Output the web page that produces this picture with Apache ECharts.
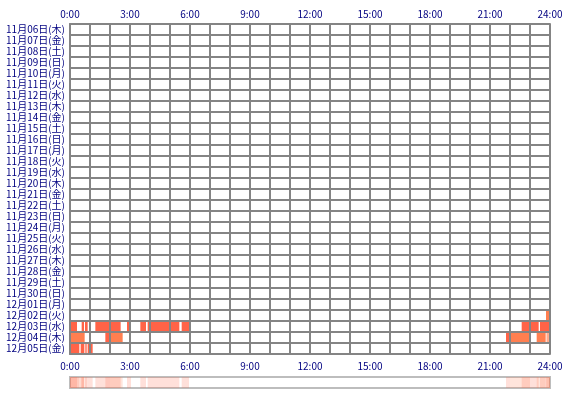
<!DOCTYPE html>
<html><head><meta charset="utf-8">
<script src="https://cdn.jsdelivr.net/npm/echarts@6/dist/echarts.min.js"></script>
<style>html,body{margin:0;padding:0;background:#fff}#c{width:570px;height:400px}</style>
</head><body><div id="c"></div>
<script>
// Categories (rows, top to bottom)
var days = ['11月06日(木)','11月07日(金)','11月08日(土)','11月09日(日)','11月10日(月)','11月11日(火)','11月12日(水)',
  '11月13日(木)','11月14日(金)','11月15日(土)','11月16日(日)','11月17日(月)','11月18日(火)','11月19日(水)',
  '11月20日(木)','11月21日(金)','11月22日(土)','11月23日(日)','11月24日(月)','11月25日(火)','11月26日(水)',
  '11月27日(木)','11月28日(金)','11月29日(土)','11月30日(日)','12月01日(月)','12月02日(火)','12月03日(水)',
  '12月04日(木)','12月05日(金)'];
var hourTicks = ['0:00','3:00','6:00','9:00','12:00','15:00','18:00','21:00','24:00'];
var palette = ['#ff6347', '#ff7f50'];
// Sessions: [start, end, colorIndex]
var dec02 = [['23:48','24:00',1]];
var dec03 = [['0:00','0:21',0],['0:35','0:42',0],['0:45','0:53',0],['1:16','2:32',0],['2:51','3:03',0],
  ['3:31','3:48',0],['3:53','5:28',0],['5:35','5:57',0],['22:35','23:26',0],['23:30','24:00',0]];
var dec04 = [['0:00','0:44',1],['1:46','2:00',0],['2:00','2:38',1],['21:48','22:00',0],['22:00','23:00',1],
  ['23:20','23:47',1],['23:50','23:53',1],['23:55','24:00',1]];
var dec05 = [['0:00','0:28',0],['0:32','0:43',0],['0:46','0:50',0],['0:53','1:08',0]];

function toH(t){var p=t.split(':');return +p[0]+(+p[1])/60;}
var data = [];
[['12月02日(火)',dec02],['12月03日(水)',dec03],['12月04日(木)',dec04],['12月05日(金)',dec05]].forEach(function(d){
  var r = days.indexOf(d[0]);
  d[1].forEach(function(s){ data.push([r, toH(s[0]), toH(s[1]), s[2]]); });
});

var navy = '#000080', gridC = '#848484', font = '"Noto Sans CJK JP", sans-serif';
function hourFmt(v){ return (v % 3 === 0) ? hourTicks[v/3] : ''; }
var chart = echarts.init(document.getElementById('c'));
chart.setOption({
  backgroundColor: '#fff',
  animation: false,
  grid: [
    {left: 70, top: 24, width: 480, height: 330, show: false},
    {left: 70, top: 377, width: 480, height: 11, show: true, borderColor: '#bdbdbd', borderWidth: 2, backgroundColor: '#fff', z: -2}
  ],
  xAxis: [
    {gridIndex: 0, type: 'value', min: 0, max: 24, interval: 1, position: 'bottom',
     axisLine: {show: true, lineStyle: {color: gridC, width: 2}}, axisTick: {show: false},
     splitLine: {show: true, lineStyle: {color: gridC, width: 2}},
     axisLabel: {formatter: hourFmt, color: navy, fontSize: 10, fontFamily: font, margin: 7, showMinLabel: true, showMaxLabel: true}},
    {gridIndex: 0, type: 'value', min: 0, max: 24, interval: 1, position: 'top',
     axisLine: {show: true, lineStyle: {color: gridC, width: 2}}, axisTick: {show: false},
     splitLine: {show: false},
     axisLabel: {formatter: hourFmt, color: navy, fontSize: 10, fontFamily: font, margin: 5, showMinLabel: true, showMaxLabel: true}},
    {gridIndex: 1, type: 'value', min: 0, max: 24, show: false}
  ],
  yAxis: [
    {gridIndex: 0, type: 'category', data: days, inverse: true,
     axisLine: {show: true, lineStyle: {color: gridC, width: 2}}, axisTick: {show: false},
     splitLine: {show: true, interval: 0, lineStyle: {color: gridC, width: 2}},
     axisLabel: {interval: 0, color: navy, fontSize: 10, fontFamily: font, margin: 5}},
    {gridIndex: 1, type: 'value', min: 0, max: 1, show: false}
  ],
  series: [
    {type: 'custom', xAxisIndex: 0, yAxisIndex: 0, z: -1, data: data,
     renderItem: function(params, api){
       var r = api.value(0), p1 = api.coord([api.value(1), r]), p2 = api.coord([api.value(2), r]);
       var h = api.size([0, 1])[1];
       return {type: 'rect', shape: {x: p1[0], y: p1[1] - h/2, width: p2[0] - p1[0], height: h},
               style: {fill: palette[api.value(3)]}};
     }},
    {type: 'custom', xAxisIndex: 2, yAxisIndex: 1, z: -1, data: data,
     renderItem: function(params, api){
       var p1 = api.coord([api.value(1), 1]), p2 = api.coord([api.value(2), 0]);
       return {type: 'rect', shape: {x: p1[0], y: p1[1], width: p2[0] - p1[0], height: p2[1] - p1[1]},
               style: {fill: palette[api.value(3)], opacity: 0.2}};
     }}
  ]
});
</script></body></html>
